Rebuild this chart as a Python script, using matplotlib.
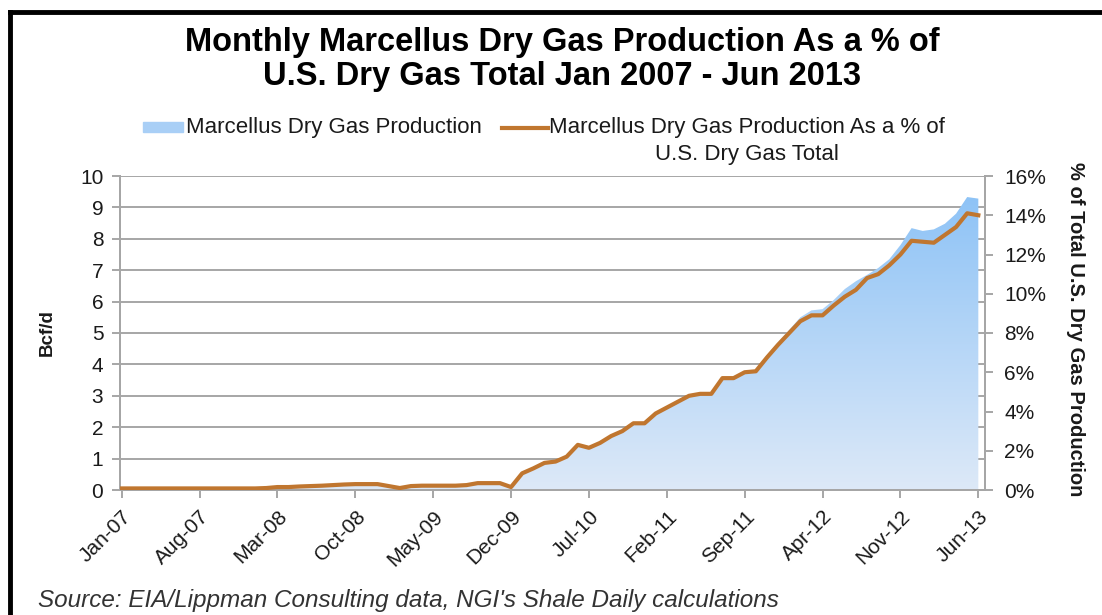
import numpy as np
import matplotlib.pyplot as plt
import matplotlib.transforms as mtransforms
from matplotlib.colors import LinearSegmentedColormap
from matplotlib.patches import Rectangle
from matplotlib.lines import Line2D

plt.rcParams['font.family'] = ['Liberation Sans', 'DejaVu Sans']

# monthly values Jan-07 .. Jun-13 (78 months)
production_bcfd = [
    0.04, 0.04, 0.04, 0.04, 0.04, 0.04, 0.04, 0.04, 0.04, 0.04, 0.04, 0.04,   # 2007
    0.04, 0.06, 0.08, 0.09, 0.10, 0.11, 0.12, 0.14, 0.16, 0.17, 0.17, 0.17,   # 2008
    0.12, 0.06, 0.12, 0.13, 0.13, 0.13, 0.13, 0.15, 0.21, 0.21, 0.21, 0.10,   # 2009
    0.55, 0.70, 0.87, 0.92, 1.07, 1.45, 1.35, 1.50, 1.72, 1.88, 2.13, 2.14,   # 2010
    2.45, 2.63, 2.82, 3.00, 3.07, 3.08, 3.58, 3.60, 3.78, 3.82, 4.30, 4.70,   # 2011
    5.10, 5.50, 5.72, 5.76, 6.05, 6.40, 6.65, 6.85, 7.07, 7.35, 7.80, 8.34,   # 2012
    8.25, 8.30, 8.48, 8.80, 9.33, 9.28,                                       # 2013
]
share_pct = [
    0.08, 0.08, 0.08, 0.08, 0.08, 0.08, 0.08, 0.08, 0.08, 0.08, 0.08, 0.08,
    0.08, 0.10, 0.15, 0.15, 0.18, 0.20, 0.22, 0.25, 0.28, 0.30, 0.30, 0.30,
    0.20, 0.10, 0.20, 0.22, 0.22, 0.22, 0.22, 0.25, 0.35, 0.35, 0.35, 0.15,
    0.85, 1.10, 1.38, 1.45, 1.70, 2.30, 2.15, 2.40, 2.75, 3.00, 3.40, 3.40,
    3.90, 4.20, 4.50, 4.80, 4.90, 4.90, 5.70, 5.70, 6.00, 6.05, 6.75, 7.40,
    8.00, 8.60, 8.90, 8.90, 9.40, 9.85, 10.20, 10.80, 11.00, 11.45, 12.00, 12.70,
    12.65, 12.60, 13.00, 13.40, 14.10, 14.00,
]
tick_labels = ['Jan-07', 'Aug-07', 'Mar-08', 'Oct-08', 'May-09', 'Dec-09',
               'Jul-10', 'Feb-11', 'Sep-11', 'Apr-12', 'Nov-12', 'Jun-13']

x = np.arange(len(production_bcfd))
prod = np.array(production_bcfd)
share = np.array(share_pct)

grid_c = '#A6A6A6'
line_c = '#C0762F'
text_c = '#1A1A1A'

fig = plt.figure(figsize=(11.02, 6.15), dpi=100)
ax = fig.add_axes([120/1102, 1-490/615, 865/1102, 314/615])
ax2 = ax.twinx()

# gradient area
poly = ax.fill_between(x, prod, 0, color='none', lw=0)
grad = np.linspace(0, 1, 256).reshape(-1, 1)
cmap = LinearSegmentedColormap.from_list('g', ['#DDE9F8', '#8EC3F6'])
im = ax.imshow(grad, extent=[x[0], x[-1], 0, prod.max()], origin='lower',
               aspect='auto', cmap=cmap, zorder=1)
im.set_clip_path(poly.get_paths()[0], transform=ax.transData)

ax2.plot(x, share, color=line_c, lw=3, solid_joinstyle='round', zorder=3)

ax.set_xlim(-0.15, 77.6)
ax.set_ylim(0, 10)
ax2.set_ylim(0, 16)
ax.set_yticks(range(0, 11))
ax2.set_yticks(range(0, 17, 2))
ax2.set_yticklabels([f'{v}%' for v in range(0, 17, 2)])
ax.set_xticks(x[::7])
ax.set_xticklabels(tick_labels, rotation=45, ha='right', va='top',
                   rotation_mode='anchor')
off = mtransforms.ScaledTranslation(11/100, 0, fig.dpi_scale_trans)
for lab in ax.get_xticklabels():
    lab.set_transform(lab.get_transform() + off)

ax.set_axisbelow(True)
ax.grid(axis='y', color=grid_c, lw=1.4)
for a in (ax, ax2):
    for s in a.spines.values():
        s.set_color(grid_c)
        s.set_linewidth(1.4)
    a.spines['top'].set_visible(False)
ax.tick_params(axis='both', colors=grid_c, labelcolor=text_c, labelsize=15,
               length=6, width=1.4)
ax.tick_params(axis='y', pad=6)
ax.tick_params(axis='x', pad=6)
ax2.tick_params(axis='y', colors=grid_c, labelcolor=text_c, labelsize=15,
                length=6, width=1.4, pad=8)

fig.text(47/1102, 1-333/615, 'Bcf/d', rotation=90, fontsize=13.5,
         fontweight='bold', ha='center', va='center', color=text_c)
fig.text(1075/1102, 1-329/615, '% of Total U.S. Dry Gas Production',
         rotation=270, fontsize=14.5, fontweight='bold', ha='center',
         va='center', color=text_c)

# title
fig.text(562/1102, 1-42/615, 'Monthly Marcellus Dry Gas Production As a % of',
         fontsize=23.5, fontweight='bold', ha='center', va='center', color='black')
fig.text(562/1102, 1-77/615, 'U.S. Dry Gas Total Jan 2007 - Jun 2013',
         fontsize=23.5, fontweight='bold', ha='center', va='center', color='black')

# legend
fig.patches.append(Rectangle((143/1102, 1-132/615), 40/1102, 10/615,
                             transform=fig.transFigure, color='#A9CFF6',
                             figure=fig))
fig.text(186/1102, 1-128/615, 'Marcellus Dry Gas Production', fontsize=16,
         ha='left', va='center', color=text_c)
fig.lines.append(Line2D([502/1102, 548/1102], [1-128/615, 1-128/615],
                        transform=fig.transFigure, color=line_c, lw=3,
                        figure=fig))
fig.text(747/1102, 1-128/615, 'Marcellus Dry Gas Production As a % of',
         fontsize=16, ha='center', va='center', color=text_c)
fig.text(747/1102, 1-155/615, 'U.S. Dry Gas Total',
         fontsize=16, ha='center', va='center', color=text_c)

fig.text(38/1102, 1-600/615,
         "Source: EIA/Lippman Consulting data, NGI's Shale Daily calculations",
         fontsize=17.5, style='italic', ha='left', va='center', color='#333333')

# frame edges
fig.lines.append(Line2D([10/1102, 1], [1-12/615, 1-12/615],
                        transform=fig.transFigure, color='black', lw=3.5, figure=fig))
fig.lines.append(Line2D([10/1102, 10/1102], [0, 1-12/615],
                        transform=fig.transFigure, color='black', lw=3.5, figure=fig))

fig.savefig('out.png', dpi=100)
